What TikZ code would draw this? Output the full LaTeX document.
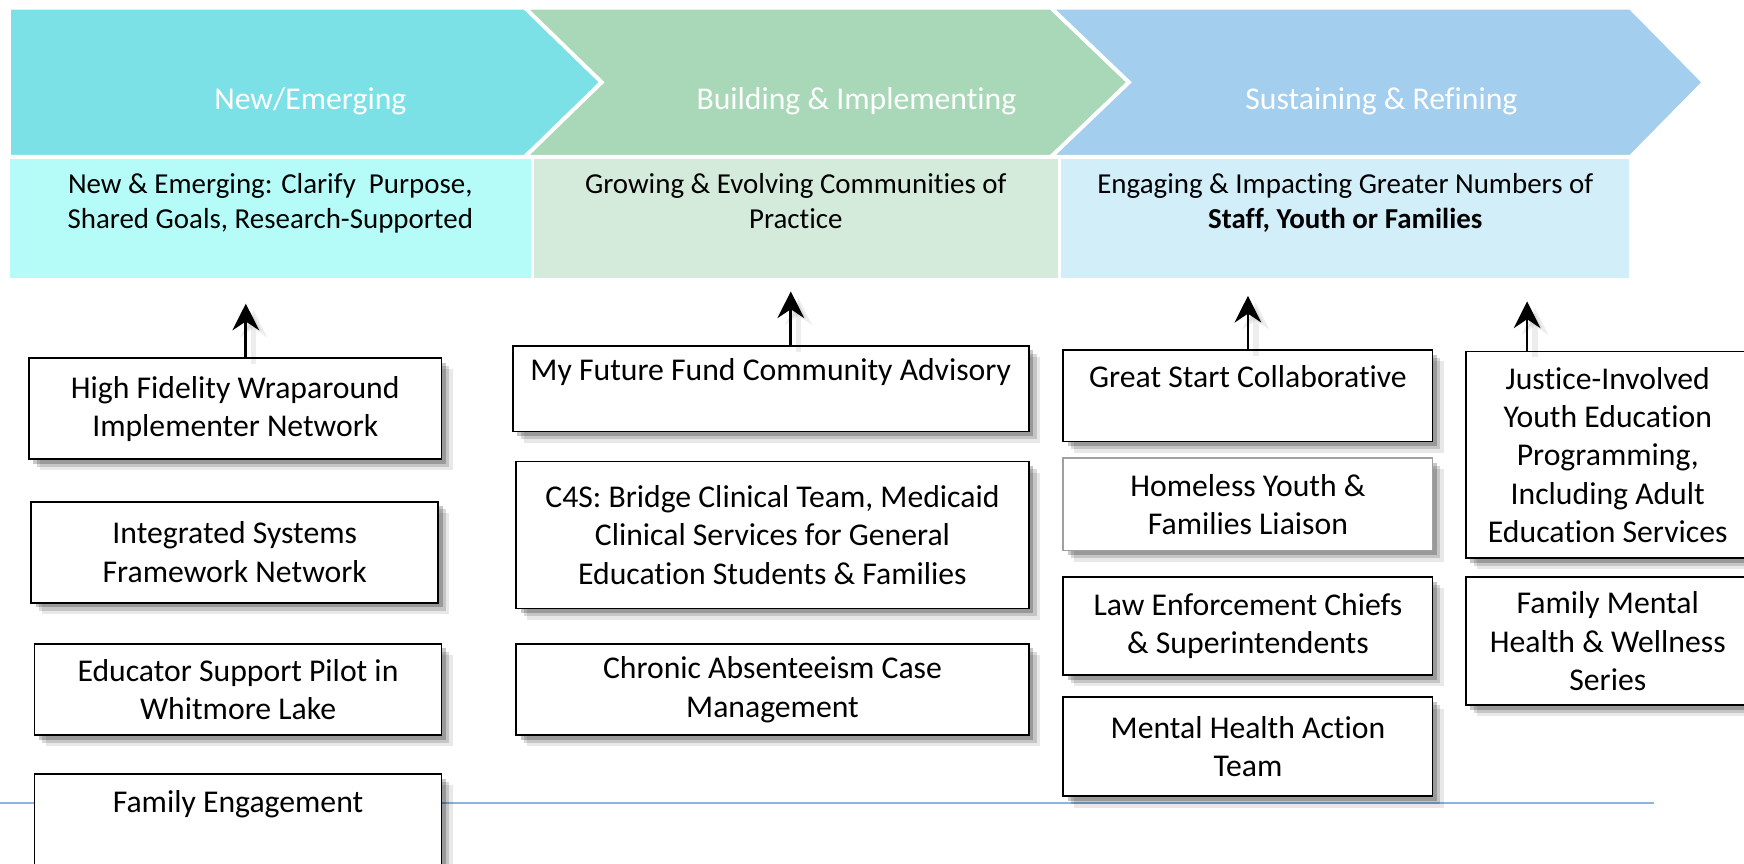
\documentclass[tikz,border=0pt]{standalone}
\usepackage{fontspec}
\setmainfont{Carlito}[Ligatures=NoCommon]
\usetikzlibrary{shadows,arrows.meta}
\definecolor{chevA}{RGB}{124,225,230}
\definecolor{chevB}{RGB}{168,216,183}
\definecolor{chevC}{RGB}{163,206,237}
\definecolor{bandA}{RGB}{181,251,247}
\definecolor{bandB}{RGB}{212,234,219}
\definecolor{bandC}{RGB}{210,238,249}
\definecolor{rule}{RGB}{143,180,220}
\definecolor{softedge}{RGB}{160,160,160}
\begin{document}
\begin{tikzpicture}[x=1pt,y=-1pt,
  chev/.style={draw=white,line width=3.5pt,line join=miter},
  title/.style={text=white,font=\fontsize{28.5}{34}\selectfont,inner sep=0pt},
  band/.style={inner sep=0pt,align=center,font=\fontsize{26}{32}\selectfont},
  shadowed/.style={general shadow={shadow xshift=10pt,shadow yshift=-10pt,fill=black,opacity=0.09},
                   general shadow={shadow xshift=7pt,shadow yshift=-7pt,fill=black,opacity=0.15},
                   general shadow={shadow xshift=4pt,shadow yshift=-4pt,fill=black,opacity=0.22}},
  box/.style={draw=black,line width=1.6pt,fill=white,align=center,inner sep=0pt,
              font=\fontsize{28.5}{34.5}\selectfont,shadowed},
  arr/.style={line width=2.4pt,-{Stealth[length=24pt,width=24pt,inset=8pt]},
              preaction={draw=black,line width=5pt,opacity=0.07,transform canvas={xshift=7pt,yshift=-6pt}}},
  hline/.style={draw=rule,line width=1.5pt}]
\useasboundingbox (0,0) rectangle (1568,776);
\clip (0,0) rectangle (1568,776);
% header chevrons
\fill[white] (0,0) rectangle (1568,776);
\path[chev,fill=chevA] (8,7) -- (472,7) -- (541,74) -- (472,141) -- (8,141) -- cycle;
\path[chev,fill=chevB] (472,7) -- (945,7) -- (1015,74) -- (945,141) -- (472,141) -- (541,74) -- cycle;
\path[chev,fill=chevC] (945,7) -- (1466,7) -- (1532,74) -- (1466,141) -- (945,141) -- (1015,74) -- cycle;
\node[title] (t1) at (279,91) {New/Emerging};
\node[title] (t2) at (770,91) {Building \& Implementing};
\node[title] (t3) at (1242,91) {Sustaining \& Refining};
% bands
\node[band,fill=bandA,minimum width=468pt,minimum height=107pt] (b1) at (243,196.5)
  {New \& Emerging: Clarify\ \ Purpose,\\Shared Goals, Research-Supported\\\mbox{}};
\node[band,fill=bandB,minimum width=471pt,minimum height=107pt] (b2) at (715.5,196.5)
  {Growing \& Evolving Communities of\\Practice\\\mbox{}};
\node[band,fill=bandC,minimum width=511pt,minimum height=107pt] (b3) at (1209.5,196.5)
  {Engaging \& Impacting Greater Numbers of\\\textbf{Staff, Youth or Families}\\\mbox{}};
% rule line
\coordinate (l0) at (0,722);
\coordinate (l1) at (1487,722);
\draw[hline] (l0) -- (l1);
% column 1
\node[box,minimum width=371pt,minimum height=91pt] (B1) at (211.5,367.5)
  {High Fidelity Wraparound\\Implementer Network};
\node[box,minimum width=366pt,minimum height=91pt] (B2) at (211,496.5)
  {Integrated Systems\\Framework Network};
\node[box,minimum width=366pt,minimum height=82pt] (B3) at (214,620)
  {Educator Support Pilot in\\Whitmore Lake};
\node[box,minimum width=366pt,minimum height=84pt] (B4) at (214,738)
  {Family Engagement\\\mbox{}};
% column 2
\node[box,minimum width=464pt,minimum height=77pt] (C1) at (693,349.5)
  {My Future Fund Community Advisory\\\mbox{}};
\node[box,minimum width=461pt,minimum height=132pt] (C2) at (694.5,481)
  {C4S: Bridge Clinical Team, Medicaid\\Clinical Services for General\\Education Students \& Families};
\node[box,minimum width=461pt,minimum height=82pt] (C3) at (694.5,620)
  {Chronic Absenteeism Case\\Management};
% column 3
\node[box,minimum width=332pt,minimum height=82pt] (D1) at (1122,356)
  {Great Start Collaborative\\\mbox{}};
\node[box,draw=softedge,minimum width=332pt,minimum height=83pt] (D2) at (1122,453.5)
  {Homeless Youth \&\\Families Liaison};
\node[box,minimum width=332pt,minimum height=88pt] (D3) at (1122,563)
  {Law Enforcement Chiefs\\\& Superintendents};
\node[box,minimum width=332pt,minimum height=89pt] (D4) at (1122,671.5)
  {Mental Health Action\\Team};
% column 4
\node[box,minimum width=255pt,minimum height=186pt] (E1) at (1445.5,409)
  {Justice-Involved\\Youth Education\\Programming,\\Including Adult\\Education Services};
\node[box,minimum width=255pt,minimum height=115pt] (E2) at (1445.5,576.5)
  {Family Mental\\Health \& Wellness\\Series};
% arrows
\coordinate (a1) at (221,273);
\coordinate (a2) at (711,262);
\coordinate (a3) at (1122,266);
\coordinate (a4) at (1373,271);
\draw[arr] (B1.north -| a1) -- (a1);
\draw[arr] (C1.north -| a2) -- (a2);
\draw[arr] (D1.north -| a3) -- (a3);
\draw[arr] (E1.north -| a4) -- (a4);
\end{tikzpicture}
\end{document}
